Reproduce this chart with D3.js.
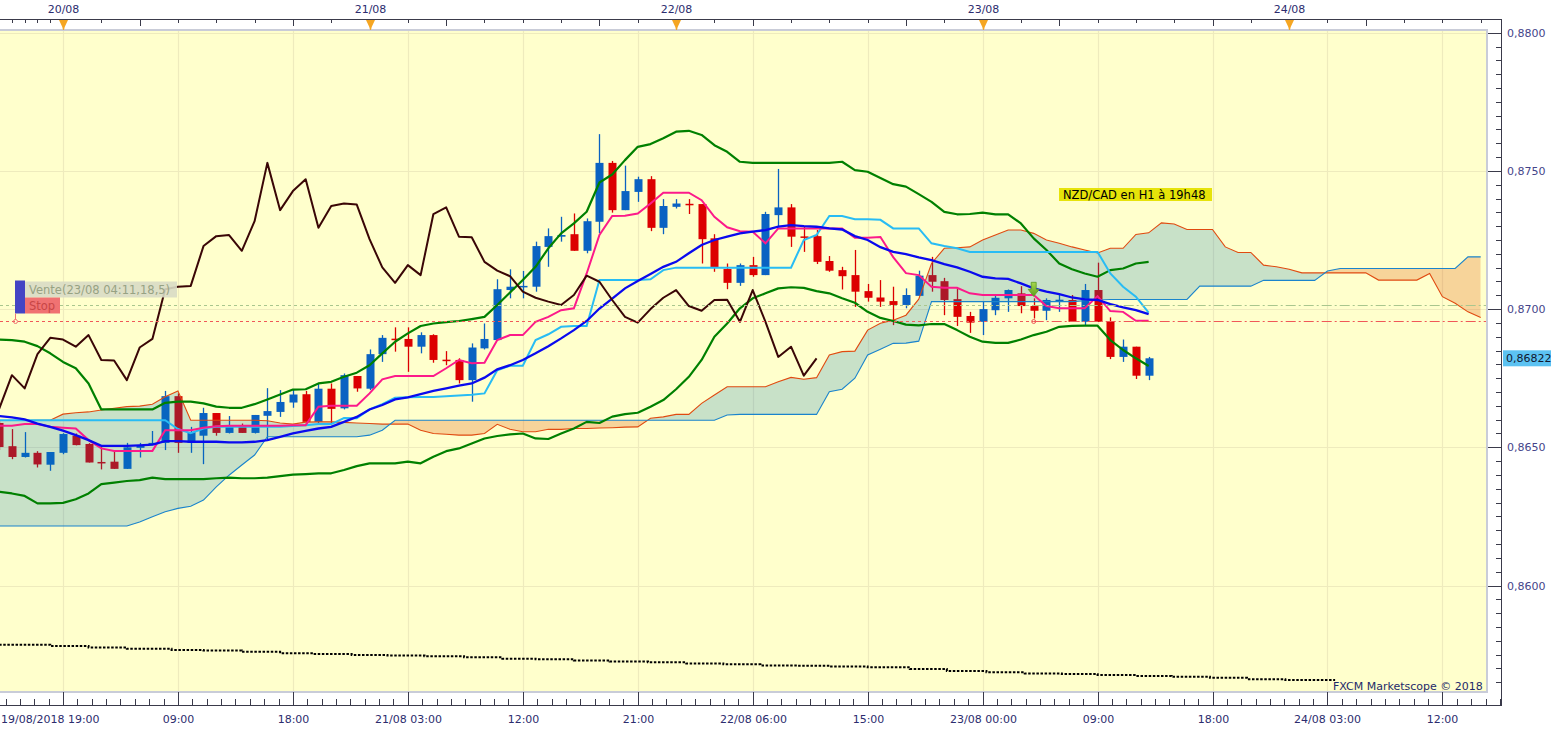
<!DOCTYPE html>
<html>
<head>
<meta charset="utf-8">
<script src="https://cdn.jsdelivr.net/npm/d3@7/dist/d3.min.js"></script>
<style>
html,body{margin:0;padding:0;background:#ffffff;overflow:hidden;}
svg{display:block;}
text{font-family:"DejaVu Sans",Verdana,sans-serif;}
</style>
</head>
<body>
<svg id="chart" width="1560" height="731"></svg>
<script>
// ================= DATA =================
const firstCandle = "2018-08-19T19:00:00Z";   // hourly candles, NZD/CAD H1

const opens = [0.86588,0.86504,0.86465,0.86480,0.86437,0.86480,0.86542,0.86512,0.86447,0.86448,
0.86422,0.86498,0.86508,0.86516,0.86685,0.86516,0.86542,0.86624,0.86552,0.86577,
0.86552,0.86614,0.86628,0.86662,0.86692,0.86592,0.86712,0.86641,0.86758,0.86712,
0.86837,0.86893,0.86892,0.86864,0.86906,0.86817,0.86816,0.86743,0.86858,0.86888,
0.87069,0.87080,0.87081,0.87225,0.87262,0.87271,0.87211,0.87316,0.87529,0.87358,
0.87424,0.87470,0.87294,0.87370,0.87381,0.87380,0.87256,0.87145,0.87095,0.87159,
0.87123,0.87340,0.87368,0.87263,0.87264,0.87174,0.87141,0.87123,0.87065,0.87042,
0.87029,0.87015,0.87048,0.87123,0.87101,0.87036,0.86975,0.86954,0.86996,0.87039,
0.87057,0.87011,0.86994,0.87031,0.87033,0.86954,0.87069,0.86954,0.86827,0.86864,0.86759];

const highs = [0.86598,0.86566,0.86555,0.86486,0.86483,0.86551,0.86550,0.86515,0.86502,0.86486,
0.86516,0.86516,0.86559,0.86704,0.86695,0.86574,0.86643,0.86624,0.86613,0.86586,
0.86617,0.86714,0.86707,0.86710,0.86704,0.86731,0.86731,0.86767,0.86758,0.86854,
0.86906,0.86934,0.86934,0.86916,0.86909,0.86848,0.86822,0.86876,0.86948,0.87108,
0.87144,0.87138,0.87244,0.87292,0.87334,0.87346,0.87328,0.87633,0.87536,0.87519,
0.87479,0.87481,0.87398,0.87398,0.87398,0.87380,0.87271,0.87165,0.87165,0.87189,
0.87352,0.87507,0.87380,0.87300,0.87286,0.87192,0.87153,0.87214,0.87091,0.87105,
0.87081,0.87075,0.87139,0.87189,0.87113,0.87075,0.86990,0.87027,0.87051,0.87071,
0.87083,0.87039,0.87039,0.87051,0.87051,0.87091,0.87168,0.86970,0.86890,0.86864,0.86827];

const lows = [0.86490,0.86457,0.86463,0.86427,0.86415,0.86475,0.86507,0.86445,0.86420,0.86422,
0.86422,0.86463,0.86508,0.86490,0.86480,0.86480,0.86439,0.86542,0.86550,0.86552,
0.86550,0.86530,0.86610,0.86643,0.86584,0.86584,0.86586,0.86637,0.86701,0.86707,
0.86809,0.86846,0.86773,0.86840,0.86806,0.86797,0.86731,0.86665,0.86854,0.86888,
0.87039,0.87039,0.87063,0.87153,0.87244,0.87211,0.87202,0.87275,0.87349,0.87358,
0.87388,0.87282,0.87271,0.87364,0.87344,0.87165,0.87135,0.87072,0.87084,0.87117,
0.87123,0.87300,0.87225,0.87207,0.87163,0.87135,0.87071,0.87008,0.87027,0.87008,
0.86942,0.87003,0.87048,0.87063,0.86978,0.86939,0.86914,0.86906,0.86978,0.86990,
0.86985,0.86966,0.86960,0.86990,0.86954,0.86942,0.86954,0.86819,0.86809,0.86747,0.86743];

const closes = [0.86501,0.86465,0.86480,0.86438,0.86483,0.86548,0.86508,0.86445,0.86445,0.86422,
0.86500,0.86508,0.86516,0.86685,0.86516,0.86555,0.86624,0.86552,0.86577,0.86552,
0.86617,0.86631,0.86664,0.86691,0.86592,0.86712,0.86639,0.86761,0.86713,0.86837,
0.86896,0.86890,0.86864,0.86906,0.86816,0.86814,0.86743,0.86861,0.86892,0.87072,
0.87081,0.87084,0.87228,0.87264,0.87268,0.87211,0.87318,0.87529,0.87358,0.87427,
0.87470,0.87294,0.87373,0.87382,0.87378,0.87253,0.87151,0.87095,0.87159,0.87123,
0.87344,0.87368,0.87262,0.87260,0.87171,0.87139,0.87119,0.87063,0.87041,0.87027,
0.87015,0.87051,0.87121,0.87099,0.87033,0.86972,0.86951,0.87000,0.87041,0.87069,
0.87011,0.86994,0.87033,0.87034,0.86954,0.87069,0.86954,0.86827,0.86864,0.86759,0.86822];

const bbUpper = [0.86890,0.86888,0.86882,0.86866,0.86840,0.86809,0.86786,0.86731,0.86637,0.86637,
0.86637,0.86637,0.86637,0.86661,0.86665,0.86665,0.86659,0.86647,0.86643,0.86643,
0.86656,0.86673,0.86691,0.86709,0.86710,0.86731,0.86737,0.86755,0.86770,0.86797,
0.86840,0.86882,0.86912,0.86939,0.86948,0.86953,0.86957,0.86964,0.86972,0.87015,
0.87060,0.87105,0.87153,0.87220,0.87274,0.87310,0.87352,0.87458,0.87487,0.87539,
0.87587,0.87597,0.87618,0.87642,0.87645,0.87630,0.87593,0.87569,0.87533,0.87529,
0.87529,0.87529,0.87529,0.87529,0.87529,0.87529,0.87533,0.87503,0.87497,0.87474,
0.87452,0.87443,0.87416,0.87388,0.87352,0.87343,0.87344,0.87349,0.87343,0.87343,
0.87310,0.87256,0.87214,0.87165,0.87144,0.87129,0.87117,0.87141,0.87147,0.87165,0.87171];

const bbMiddle = [0.86613,0.86608,0.86601,0.86586,0.86574,0.86560,0.86544,0.86526,0.86505,0.86505,
0.86505,0.86507,0.86510,0.86522,0.86522,0.86520,0.86520,0.86520,0.86518,0.86518,
0.86520,0.86526,0.86538,0.86550,0.86559,0.86568,0.86574,0.86592,0.86610,0.86637,
0.86653,0.86673,0.86681,0.86692,0.86704,0.86713,0.86723,0.86731,0.86752,0.86782,
0.86797,0.86816,0.86840,0.86866,0.86894,0.86924,0.86957,0.87002,0.87038,0.87075,
0.87102,0.87127,0.87153,0.87171,0.87202,0.87232,0.87250,0.87262,0.87274,0.87280,
0.87286,0.87298,0.87304,0.87300,0.87298,0.87292,0.87288,0.87264,0.87250,0.87224,
0.87207,0.87199,0.87187,0.87177,0.87163,0.87151,0.87135,0.87117,0.87111,0.87109,
0.87093,0.87075,0.87063,0.87054,0.87042,0.87035,0.87033,0.87018,0.87006,0.86996,0.86982];

const bbLower = [0.86339,0.86333,0.86324,0.86297,0.86297,0.86299,0.86312,0.86333,0.86367,0.86372,
0.86378,0.86381,0.86390,0.86385,0.86385,0.86385,0.86385,0.86388,0.86390,0.86388,
0.86388,0.86390,0.86396,0.86401,0.86403,0.86406,0.86406,0.86418,0.86432,0.86442,
0.86442,0.86442,0.86448,0.86442,0.86466,0.86486,0.86496,0.86514,0.86532,0.86541,
0.86547,0.86550,0.86532,0.86530,0.86550,0.86568,0.86592,0.86588,0.86611,0.86620,
0.86625,0.86647,0.86671,0.86710,0.86755,0.86816,0.86900,0.86948,0.87003,0.87039,
0.87057,0.87075,0.87079,0.87077,0.87065,0.87057,0.87039,0.87023,0.86990,0.86968,
0.86957,0.86944,0.86941,0.86946,0.86946,0.86924,0.86900,0.86882,0.86878,0.86878,
0.86890,0.86906,0.86918,0.86936,0.86939,0.86940,0.86940,0.86888,0.86852,0.86822,0.86794];

const tenkan = [0.86578,0.86578,0.86584,0.86584,0.86574,0.86571,0.86568,0.86526,0.86496,0.86487,
0.86487,0.86487,0.86487,0.86562,0.86562,0.86562,0.86571,0.86576,0.86578,0.86578,
0.86578,0.86578,0.86578,0.86580,0.86580,0.86647,0.86650,0.86650,0.86650,0.86695,
0.86746,0.86758,0.86758,0.86758,0.86758,0.86786,0.86816,0.86804,0.86806,0.86888,
0.86906,0.86906,0.86954,0.86972,0.86996,0.87003,0.87129,0.87268,0.87337,0.87338,
0.87346,0.87382,0.87421,0.87421,0.87421,0.87394,0.87334,0.87296,0.87282,0.87280,
0.87238,0.87292,0.87292,0.87292,0.87292,0.87292,0.87292,0.87258,0.87258,0.87261,
0.87188,0.87130,0.87123,0.87081,0.87077,0.87077,0.87057,0.87051,0.87051,0.87051,
0.87051,0.87051,0.87011,0.87003,0.87003,0.87003,0.87047,0.86993,0.86990,0.86958,0.86958];

const kijun = [0.86598,0.86598,0.86598,0.86598,0.86598,0.86598,0.86598,0.86598,0.86598,0.86598,
0.86598,0.86598,0.86598,0.86598,0.86566,0.86551,0.86568,0.86574,0.86574,0.86574,
0.86574,0.86574,0.86574,0.86577,0.86580,0.86584,0.86584,0.86606,0.86605,0.86637,
0.86656,0.86679,0.86681,0.86682,0.86682,0.86685,0.86687,0.86690,0.86695,0.86779,
0.86795,0.86795,0.86888,0.86909,0.86936,0.86939,0.86939,0.87105,0.87105,0.87105,
0.87105,0.87108,0.87141,0.87150,0.87150,0.87150,0.87150,0.87150,0.87150,0.87150,
0.87150,0.87150,0.87150,0.87250,0.87268,0.87337,0.87337,0.87325,0.87325,0.87323,
0.87292,0.87292,0.87292,0.87238,0.87228,0.87220,0.87207,0.87207,0.87207,0.87207,
0.87207,0.87207,0.87207,0.87207,0.87207,0.87207,0.87207,0.87129,0.87081,0.87045,0.86987];

// Senkou spans, starting at the first candle and drawn 26 hours past the last one
const senkouA = [0.86597,0.86597,0.86597,0.86598,0.86598,0.86620,0.86625,0.86628,0.86635,0.86641,
0.86647,0.86649,0.86656,0.86683,0.86704,0.86598,0.86598,0.86598,0.86598,0.86598,
0.86598,0.86596,0.86588,0.86584,0.86591,0.86592,0.86592,0.86590,0.86588,0.86586,
0.86584,0.86584,0.86584,0.86562,0.86550,0.86547,0.86544,0.86544,0.86550,0.86583,
0.86565,0.86556,0.86556,0.86565,0.86565,0.86568,0.86568,0.86570,0.86571,0.86573,
0.86574,0.86605,0.86610,0.86619,0.86619,0.86659,0.86689,0.86719,0.86719,0.86719,
0.86719,0.86737,0.86753,0.86746,0.86752,0.86834,0.86846,0.86848,0.86924,0.86949,
0.86960,0.86978,0.87036,0.87165,0.87220,0.87222,0.87225,0.87250,0.87268,0.87286,
0.87286,0.87274,0.87250,0.87238,0.87225,0.87214,0.87203,0.87220,0.87220,0.87270,
0.87276,0.87312,0.87308,0.87288,0.87288,0.87288,0.87225,0.87205,0.87205,0.87159,
0.87153,0.87144,0.87131,0.87131,0.87131,0.87131,0.87131,0.87131,0.87105,0.87105,
0.87105,0.87105,0.87129,0.87045,0.87021,0.86990,0.86970];

const senkouB = [0.86215,0.86215,0.86215,0.86215,0.86215,0.86215,0.86215,0.86215,0.86215,0.86215,
0.86215,0.86230,0.86249,0.86267,0.86279,0.86287,0.86309,0.86357,0.86399,0.86436,
0.86472,0.86538,0.86538,0.86538,0.86538,0.86538,0.86538,0.86538,0.86538,0.86544,
0.86562,0.86598,0.86598,0.86598,0.86598,0.86598,0.86598,0.86598,0.86598,0.86598,
0.86598,0.86598,0.86598,0.86598,0.86598,0.86598,0.86598,0.86598,0.86598,0.86598,
0.86598,0.86598,0.86598,0.86598,0.86598,0.86598,0.86598,0.86617,0.86619,0.86619,
0.86619,0.86619,0.86619,0.86619,0.86619,0.86701,0.86710,0.86750,0.86834,0.86855,
0.86876,0.86877,0.86884,0.87027,0.87027,0.87027,0.87027,0.87027,0.87027,0.87027,
0.87027,0.87027,0.87027,0.87027,0.87027,0.87030,0.87033,0.87035,0.87035,0.87035,
0.87035,0.87035,0.87035,0.87035,0.87083,0.87083,0.87083,0.87083,0.87083,0.87104,
0.87104,0.87104,0.87104,0.87104,0.87138,0.87147,0.87147,0.87147,0.87147,0.87147,
0.87147,0.87147,0.87147,0.87147,0.87147,0.87189,0.87189];

const chikouShift = 26;   // chikou = close plotted 26 hours back

// long-period moving average (dotted), steps: hours after the first candle
const longMaHours  = [0,4,7,10,13.5,16,19,22,24.6,27.6,30.4,33.3,36.4,39.4,42,45,47.8,50.8,53.8,56.7,
59.6,62.5,65,68,71.3,74.2,77.3,80.3,83.2,86,89,91.8,94.8,97.7,100.7,104.6];
const longMaValues = [0.85786,0.85781,0.85776,0.85771,0.85767,0.85765,0.85760,0.85755,0.85752,0.85749,
0.85747,0.85744,0.85740,0.85735,0.85733,0.85729,0.85725,0.85722,0.85718,0.85715,
0.85711,0.85710,0.85707,0.85704,0.85698,0.85691,0.85686,0.85682,0.85680,0.85676,
0.85673,0.85670,0.85666,0.85661,0.85658,0.85658];

const priceTicks = [0.8800, 0.8750, 0.8700, 0.8650, 0.8600];
const dayLabels  = ["20/08","21/08","22/08","23/08","24/08"];
const sellLevel = 0.87015;
const stopLevel = 0.86956;
const lastPrice = 0.86822;
const orderCandle = 81;              // index of the 23/08 04:00 candle
const orderText = "Vente(23/08 04:11,18,5)";
const stopText = "Stop";
const titleText = "NZD/CAD en H1 à 19h48";
const creditText = "FXCM Marketscope © 2018";

// ================= SCALES =================
const H = 3600000;
const t0 = Date.parse(firstCandle);
const T20 = Date.UTC(2018, 7, 20);
const tAt = i => new Date(t0 + i * H);
const PX_RIGHT = 1487, PLOT_TOP = 31, PLOT_BOTTOM = 692;

const x = d3.scaleUtc()
  .domain([new Date(T20 - 4.9327 * H), new Date(T20 + 111.57 * H)])
  .range([0, 1488]);
const y = d3.scaleLinear().domain([0.86, 0.88]).range([585.5, 32.7]);

const svg = d3.select("#chart");
const defs = svg.append("defs");
defs.append("clipPath").attr("id", "plotClip").append("rect")
  .attr("x", 0).attr("y", PLOT_TOP).attr("width", PX_RIGHT).attr("height", PLOT_BOTTOM - PLOT_TOP);

// background
svg.append("rect").attr("x", 0).attr("y", 0).attr("width", 1560).attr("height", 731).attr("fill", "#ffffff");
svg.append("rect").attr("x", 0).attr("y", PLOT_TOP).attr("width", PX_RIGHT).attr("height", PLOT_BOTTOM - PLOT_TOP)
  .attr("fill", "#ffffcc");

const plot = svg.append("g").attr("clip-path", "url(#plotClip)");

// grid
const gridHours = d3.range(0, 117, 9);
plot.selectAll("line.vg").data(gridHours).join("line")
  .attr("x1", h => Math.round(x(new Date(T20 + h * H))) + 0.5)
  .attr("x2", h => Math.round(x(new Date(T20 + h * H))) + 0.5)
  .attr("y1", PLOT_TOP).attr("y2", PLOT_BOTTOM)
  .attr("stroke", "#eeebbd").attr("stroke-width", 1.2);
plot.selectAll("line.hg").data(priceTicks).join("line")
  .attr("x1", 0).attr("x2", PX_RIGHT)
  .attr("y1", v => Math.round(y(v)) + 0.5).attr("y2", v => Math.round(y(v)) + 0.5)
  .attr("stroke", "#eeebbd").attr("stroke-width", 1.2);

// candles
const candles = opens.map((o, i) => ({ t: tAt(i), o, h: highs[i], l: lows[i], c: closes[i] }));
const BLUE = "#0a62c2", RED = "#dc0000";
const cg = plot.append("g");
cg.selectAll("line.wick").data(candles).join("line")
  .attr("x1", d => Math.round(x(d.t)) + 0.5).attr("x2", d => Math.round(x(d.t)) + 0.5)
  .attr("y1", d => y(d.h)).attr("y2", d => y(d.l))
  .attr("stroke", d => d.c >= d.o ? BLUE : RED).attr("stroke-width", 1.3);
cg.selectAll("rect.body").data(candles).join("rect")
  .attr("x", d => Math.round(x(d.t)) - 3.5)
  .attr("width", 8)
  .attr("y", d => y(Math.max(d.o, d.c)))
  .attr("height", d => Math.max(1.5, Math.abs(y(d.o) - y(d.c))))
  .attr("fill", d => d.c >= d.o ? BLUE : RED);

// Ichimoku cloud
const cloud = senkouA.map((a, i) => ({ t: tAt(i), a, b: senkouB[i] }));
defs.append("clipPath").attr("id", "belowA").append("path")
  .attr("d", d3.area().x(d => x(d.t)).y0(d => y(d.a)).y1(800)(cloud));
defs.append("clipPath").attr("id", "belowB").append("path")
  .attr("d", d3.area().x(d => x(d.t)).y0(d => y(d.b)).y1(800)(cloud));
plot.append("g").attr("clip-path", "url(#belowA)").append("path")
  .attr("d", d3.area().x(d => x(d.t)).y0(0).y1(d => y(d.b))(cloud))
  .attr("fill", "rgb(0,116,185)").attr("fill-opacity", 0.216);
plot.append("g").attr("clip-path", "url(#belowB)").append("path")
  .attr("d", d3.area().x(d => x(d.t)).y0(0).y1(d => y(d.a))(cloud))
  .attr("fill", "rgb(225,95,20)").attr("fill-opacity", 0.27);

const lineOf = (vals, off = 0) => d3.line().x((d, i) => x(tAt(i + off))).y(d => y(d))(vals);
plot.append("path").attr("d", lineOf(senkouA)).attr("fill", "none").attr("stroke", "#e04a10").attr("stroke-width", 1.1);
plot.append("path").attr("d", lineOf(senkouB)).attr("fill", "none").attr("stroke", "#1a84cc").attr("stroke-width", 1.1);

// dotted long MA
const ma = longMaHours.map((h, i) => ({ t: new Date(t0 + h * H), v: longMaValues[i] }));
plot.append("path")
  .attr("d", d3.line().curve(d3.curveStepAfter).x(d => x(d.t)).y(d => y(d.v))(ma))
  .attr("fill", "none").attr("stroke", "#000").attr("stroke-width", 2).attr("stroke-dasharray", "2.5,1.6");

// Bollinger bands
[[bbUpper, "#008000", 2.2], [bbLower, "#008000", 2.2]].forEach(([vals, col, w]) => {
  plot.append("path").attr("d", lineOf(vals)).attr("fill", "none").attr("stroke", col).attr("stroke-width", w).attr("stroke-linejoin", "round");
});
// Kijun, Tenkan, middle band
plot.append("path").attr("d", lineOf(kijun)).attr("fill", "none").attr("stroke", "#28bcf4").attr("stroke-width", 2);
plot.append("path").attr("d", lineOf(tenkan)).attr("fill", "none").attr("stroke", "#fc1a8a").attr("stroke-width", 2);
plot.append("path").attr("d", lineOf(bbMiddle)).attr("fill", "none").attr("stroke", "#0a0aee").attr("stroke-width", 2.3);
// Chikou
const chikou = closes.slice(chikouShift);
plot.append("path").attr("d", lineOf(chikou)).attr("fill", "none").attr("stroke", "#3a0606").attr("stroke-width", 2).attr("stroke-linejoin", "round");

// order lines
const xOrder = x(tAt(orderCandle));
const ySell = Math.round(y(sellLevel)) + 0.5, yStop = Math.round(y(stopLevel)) + 0.5;
[[ySell, "#a9c68e"], [yStop, "#f05858"]].forEach(([yy, col]) => {
  plot.append("line").attr("x1", 0).attr("x2", xOrder).attr("y1", yy).attr("y2", yy)
    .attr("stroke", col).attr("stroke-width", 1).attr("stroke-dasharray", "3,3");
  plot.append("line").attr("x1", xOrder).attr("x2", PX_RIGHT).attr("y1", yy).attr("y2", yy)
    .attr("stroke", col).attr("stroke-width", 1.2).attr("stroke-dasharray", "10,3,2,3");
});
plot.append("circle").attr("cx", xOrder).attr("cy", yStop).attr("r", 2).attr("fill", "none").attr("stroke", "#f05858");

// sell arrow
const ag = defs.append("linearGradient").attr("id", "arrowG").attr("x1", 0).attr("x2", 0).attr("y1", 0).attr("y2", 1);
ag.append("stop").attr("offset", "0%").attr("stop-color", "#a8d84c");
ag.append("stop").attr("offset", "100%").attr("stop-color", "#5c9e1c");
const ay = y(highs[orderCandle]);
plot.append("path")
  .attr("d", `M${xOrder-2.5},${ay-16} L${xOrder+2.5},${ay-16} L${xOrder+2.5},${ay-9} L${xOrder+5.5},${ay-9} L${xOrder},${ay-2} L${xOrder-5.5},${ay-9} L${xOrder-2.5},${ay-9} Z`)
  .attr("fill", "url(#arrowG)").attr("stroke", "#5a9a22").attr("stroke-width", 0.8);

// plot border
svg.append("rect").attr("x", -2).attr("y", PLOT_TOP - 1).attr("width", PX_RIGHT + 2).attr("height", PLOT_BOTTOM - PLOT_TOP + 1)
  .attr("fill", "none").attr("stroke", "#c9ccd8").attr("stroke-width", 2);

// order label (top-left)
const lab = svg.append("g");
lab.append("rect").attr("x", 15).attr("y", yStop - 41).attr("width", 10).attr("height", 33).attr("fill", "#4444c4");
lab.append("rect").attr("x", 25).attr("y", yStop - 40).attr("width", 152).attr("height", 16).attr("fill", "#d9dcc5").attr("opacity", 0.9);
lab.append("text").attr("x", 29).attr("y", yStop - 27.5).attr("font-size", 11.5).attr("fill", "#97a283").text(orderText);
lab.append("rect").attr("x", 25).attr("y", yStop - 24).attr("width", 35).attr("height", 16).attr("fill", "#f07272");
lab.append("text").attr("x", 29).attr("y", yStop - 11.5).attr("font-size", 11.5).attr("fill", "#c84646").text(stopText);
lab.append("line").attr("x1", 15.5).attr("x2", 15.5).attr("y1", yStop - 8).attr("y2", yStop - 2).attr("stroke", "#f07272");
lab.append("circle").attr("cx", 15.5).attr("cy", yStop).attr("r", 2).attr("fill", "none").attr("stroke", "#f07272");

// title label
svg.append("rect").attr("x", 1059).attr("y", 188).attr("width", 153).attr("height", 13).attr("fill", "#e6e30a");
svg.append("text").attr("x", 1063).attr("y", 199).attr("font-size", 11.5).attr("fill", "#000").text(titleText);

// credit
svg.append("text").attr("x", 1333).attr("y", 690).attr("font-size", 11).attr("fill", "#1e2a6a").text(creditText);

// ================= AXES =================
const AX = "#3a3a4a", LAB = "#2c2c6e";
// top axis
svg.append("line").attr("x1", 0).attr("x2", 1502).attr("y1", 19.5).attr("y2", 19.5).attr("stroke", AX);
const topTicks = d3.range(-4, 0).concat(d3.range(3, 112, 3).filter(h => h % 24 !== 0));
svg.selectAll("line.tt").data(topTicks).join("line")
  .attr("x1", h => Math.round(x(new Date(T20 + h * H))) + 0.5)
  .attr("x2", h => Math.round(x(new Date(T20 + h * H))) + 0.5)
  .attr("y1", 19.5).attr("y2", h => (h % 24 === 6 || h % 24 === 18) ? 26 : 23)
  .attr("stroke", AX);
const dayH = d3.range(0, 97, 24);
dayH.forEach((h, k) => {
  const xx = Math.round(x(new Date(T20 + h * H))) + 0.5;
  svg.append("path").attr("d", `M${xx-4.5},20 L${xx+4.5},20 L${xx+1.2},27 L${xx+0.5},30 L${xx-0.5},30 L${xx-1.2},27 Z`)
    .attr("fill", "#f5a623");
  svg.append("text").attr("x", xx).attr("y", 13).attr("text-anchor", "middle").attr("font-size", 11).attr("fill", LAB).text(dayLabels[k]);
});

// right axis
svg.append("line").attr("x1", 1501.5).attr("x2", 1501.5).attr("y1", 19).attr("y2", 706).attr("stroke", AX);
const pt = d3.range(0, 50).map(k => +(0.8800 - k * 0.0005).toFixed(4)).filter(v => y(v) >= 32 && y(v) <= 690);
svg.selectAll("line.rt").data(pt).join("line")
  .attr("x1", v => Math.round(v * 10000) % 50 === 0 ? 1488 : 1496).attr("x2", 1501.5)
  .attr("y1", v => Math.round(y(v)) + 0.5).attr("y2", v => Math.round(y(v)) + 0.5)
  .attr("stroke", AX);
svg.selectAll("text.rl").data(priceTicks).join("text")
  .attr("x", 1507).attr("y", v => y(v) + 4).attr("font-size", 11).attr("fill", "#45458a")
  .text(v => d3.format(".4f")(v).replace(".", ","));
svg.append("rect").attr("x", 1503).attr("y", y(lastPrice) - 8).attr("width", 48).attr("height", 16).attr("fill", "#5cc2f2");
svg.append("text").attr("x", 1506).attr("y", y(lastPrice) + 4).attr("font-size", 11).attr("fill", "#101830")
  .text(d3.format(".5f")(lastPrice).replace(".", ","));

// bottom axis
svg.append("line").attr("x1", 0).attr("x2", 1502).attr("y1", 705.5).attr("y2", 705.5).attr("stroke", AX);
const majorH = d3.range(0, 117, 9);
const minorH = [];
d3.range(-9, 117, 9).forEach(h => { for (let j = 1; j < 8; j++) minorH.push(h + j * 9 / 8); });
const xH = h => Math.round(x(new Date(T20 + h * H))) + 0.5;
svg.selectAll("line.bm").data(majorH.filter(h => xH(h) <= 1502)).join("line")
  .attr("x1", xH).attr("x2", xH).attr("y1", 692).attr("y2", 705.5).attr("stroke", AX);
svg.selectAll("line.bn").data(minorH.filter(h => xH(h) >= 0 && xH(h) <= 1502)).join("line")
  .attr("x1", xH).attr("x2", xH).attr("y1", 699).attr("y2", 705.5).attr("stroke", AX);
const fDay = d3.utcFormat("%d/%m %H:%M"), fHour = d3.utcFormat("%H:%M");
svg.selectAll("text.bl").data(majorH.filter(h => h > 0)).join("text")
  .attr("x", xH).attr("y", 723).attr("text-anchor", "middle").attr("font-size", 11).attr("fill", LAB)
  .text(h => {
    const d = new Date(T20 + h * H), p = new Date(T20 + (h - 9) * H);
    return d.getUTCDate() !== p.getUTCDate() ? fDay(d) : fHour(d);
  });
svg.append("text").attr("x", 1).attr("y", 723).attr("font-size", 11).attr("fill", LAB)
  .text(d3.utcFormat("%d/%m/%Y %H:%M")(new Date(t0)));
</script>
</body>
</html>
